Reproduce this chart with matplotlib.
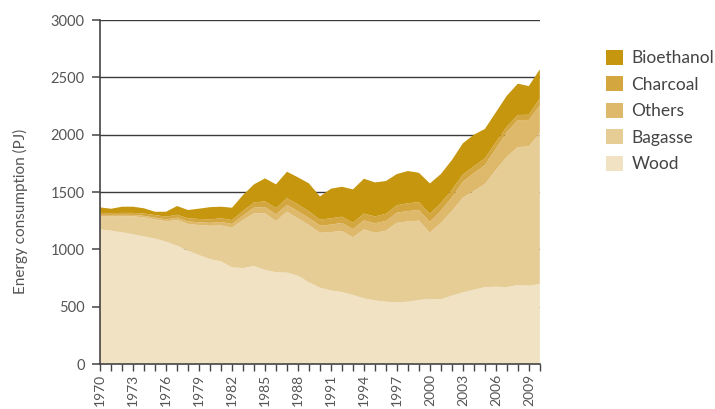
import matplotlib
matplotlib.use("Agg")
import matplotlib.pyplot as plt
from matplotlib.patches import Patch

years = list(range(1970, 2011))

wood = [1174, 1163, 1148, 1131, 1113, 1093, 1067, 1032, 988, 950,
        915, 895, 843, 837, 855, 820, 800, 797, 770, 712,
        665, 642, 628, 602, 572, 555, 543, 538, 543, 558,
        568, 564, 596, 625, 648, 669, 674, 671, 689, 683, 698]
bagasse = [116, 127, 142, 157, 166, 169, 177, 224, 233, 262,
           290, 314, 346, 419, 459, 494, 447, 531, 500, 500,
           480, 509, 532, 503, 602, 590, 620, 694, 701, 692,
           577, 668, 738, 825, 862, 901, 1018, 1137, 1203, 1215, 1317]
others = [10, 10, 11, 12, 13, 15, 17, 20, 22, 24,
          26, 30, 32, 40, 50, 55, 58, 60, 62, 62,
          62, 65, 70, 72, 80, 82, 85, 88, 90, 92,
          95, 105, 120, 140, 155, 165, 185, 215, 235, 230, 240]
charcoal = [16, 16, 17, 18, 20, 22, 24, 26, 28, 29,
            30, 32, 35, 40, 45, 50, 55, 58, 60, 58,
            52, 55, 55, 55, 58, 60, 62, 65, 68, 70,
            70, 68, 65, 62, 60, 58, 58, 48, 45, 46, 62]
bioethanol = [50, 38, 54, 54, 46, 29, 43, 76, 72, 90,
              107, 101, 107, 138, 158, 200, 207, 231, 236, 243,
              203, 258, 261, 291, 304, 297, 286, 272, 281, 256,
              265, 252, 260, 273, 275, 257, 260, 269, 273, 250, 253]

series_names = ["Wood", "Bagasse", "Others", "Charcoal", "Bioethanol"]
colors = ["#F1E2C4", "#E6CD96", "#DEB96C", "#D4A640", "#C5960E"]

y_ticks = [0, 500, 1000, 1500, 2000, 2500, 3000]
x_label_years = list(range(1970, 2010, 3))

plt.rcParams["font.family"] = ["Lato", "DejaVu Sans"]

fig = plt.figure(figsize=(7.15, 4.09), dpi=100)
ax = fig.add_axes([0.14, 0.110, 0.615, 0.841])

ax.stackplot(years, wood, bagasse, others, charcoal, bioethanol,
             colors=colors, linewidth=0, zorder=2)

ax.set_xlim(1970, 2010)
ax.set_ylim(0, 3000)

ax.set_yticks(y_ticks)
ax.set_yticklabels([str(v) for v in y_ticks])
ax.set_xticks(years)
ax.set_xticklabels([str(y) if y in x_label_years else "" for y in years],
                   rotation=90)

ax.yaxis.grid(True, color="#3c3c3c", linewidth=1.0, zorder=1)
ax.set_axisbelow(True)

for side in ("top", "right"):
    ax.spines[side].set_visible(False)
for side in ("left", "bottom"):
    ax.spines[side].set_color("#444444")
    ax.spines[side].set_linewidth(1.2)
    ax.spines[side].set_zorder(3)

ax.tick_params(axis="y", direction="out", length=6, width=1.1,
               color="#444444", labelcolor="#555555", labelsize=10.5, pad=5)
ax.tick_params(axis="x", direction="out", length=5, width=1.0,
               color="#444444", labelcolor="#555555", labelsize=10, pad=2)

ax.set_ylabel("Energy consumption (PJ)", fontsize=11, color="#555555")
ax.yaxis.set_label_coords(-0.164, 0.445)

handles = [Patch(facecolor=c, edgecolor="none") for c in colors][::-1]
labels = series_names[::-1]
fig.legend(handles, labels, loc="upper left",
           bbox_to_anchor=(0.826, 0.917), frameon=False,
           fontsize=12.5, handlelength=0.95, handleheight=0.95,
           handletextpad=0.5, labelspacing=0.58, labelcolor="#444444")

fig.savefig("out.png", dpi=100)
